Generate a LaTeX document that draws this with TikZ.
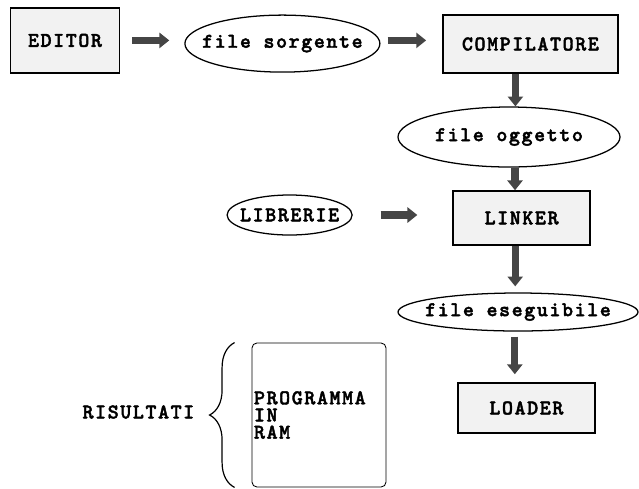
\documentclass[tikz,border=0pt]{standalone}
\usepackage{fontspec}
\usetikzlibrary{positioning,shapes.geometric,arrows.meta,calc,decorations.pathreplacing}
\newfontfamily\diagfont[LetterSpace=7.6,FakeBold=2]{lmmonolt10-bold.otf}
\newcommand{\flowfont}{\diagfont\fontsize{14.9}{10.4}\selectfont}
\definecolor{flowArrow}{HTML}{454545}
\definecolor{flowFill}{HTML}{F2F2F2}

\begin{document}
\begin{tikzpicture}[
    bigarrow/.style={
        -{Triangle[length=7pt,width=10.7pt]},
        line width=5pt,
        flowArrow,
    },
    stage/.style={
        rectangle,
        draw,
        fill=flowFill,
        line width=1.1pt,
        inner sep=0pt,
        font=\flowfont,
    },
    oval/.style={
        ellipse,
        draw,
        line width=0.9pt,
        inner sep=0pt,
    },
    memory/.style={
        rectangle,
        draw,
        line width=0.6pt,
        rounded corners=3.5pt,
        inner xsep=0.05cm,
        align=left,
        font=\flowfont,
    },
    every label/.style={font=\flowfont, inner sep=0pt},
]
    \useasboundingbox (0,0) rectangle (15.975,-12.2);

    % Top row
    \node[stage, minimum width=2.725cm, minimum height=1.625cm] (editor) at (1.625,-1.01) {EDITOR};
    \node[oval, minimum width=4.875cm, minimum height=1.425cm, label=center:{file sorgente}] (sorgente) at (7.06,-1.09) {};
    \node[stage, minimum width=4.375cm, minimum height=1.45cm] (compilatore) at (13.26,-1.1) {COMPILATORE};

    % Linking
    \node[oval, minimum width=5.55cm, minimum height=1.5cm, label=center:{file oggetto}] (oggetto) at (12.725,-3.425) {};
    \node[stage, minimum width=3.425cm, minimum height=1.35cm] (linker) at (13.04,-5.45) {LINKER};
    \node[oval, minimum width=3.125cm, minimum height=1.0cm, label=center:{LIBRERIE}] (librerie) at (7.24,-5.375) {};

    % Loading
    \node[oval, minimum width=6.0cm, minimum height=0.95cm, label=center:{file eseguibile}] (eseguibile) at (12.95,-7.8) {};
    \node[stage, minimum width=3.425cm, minimum height=1.25cm] (loader) at (13.16,-10.2) {LOADER};

    % Program in memory
    \node[memory, text width=3.25cm, minimum height=3.6cm] (ram) at (7.975,-10.375) {PROGRAMMA\\[1.8pt]IN\\[1.8pt]RAM};
    \node[font=\flowfont] (risultati) at (3.46,-10.3) {RISULTATI};
    \draw[line width=0.85pt, decorate, decoration={brace, amplitude=0.625cm}]
        ($(ram.south west)+(-0.425,0)$) -- ($(ram.north west)+(-0.425,0)$);

    % Flow arrows
    \draw[bigarrow, shorten <=0.3cm, shorten >=0.375cm] (editor.east) -- (editor.east -| sorgente.west);
    \draw[bigarrow, shorten <=0.175cm, shorten >=0.4cm] (editor.east -| sorgente.east) -- (editor.east -| compilatore.west);
    \draw[bigarrow] ($(compilatore.south)+(-0.375,0)$) -- ($(compilatore.south |- oggetto.north)+(-0.375,0)$);
    \draw[bigarrow] ($(oggetto.south)+(0.15,0)$) -- ($(oggetto.south |- linker.north)+(0.15,0)$);
    \draw[bigarrow, shorten <=0.7cm, shorten >=0.875cm] (librerie.east) -- (librerie.east -| linker.west);
    \draw[bigarrow, shorten >=0.15cm] ($(linker.south)+(-0.16,0)$) -- ($(linker.south |- eseguibile.north)+(-0.16,0)$);
    \draw[bigarrow, shorten <=0.125cm, shorten >=0.2cm] ($(loader.north |- eseguibile.south)+(-0.29,0)$) -- ($(loader.north)+(-0.29,0)$);

\end{tikzpicture}
\end{document}
